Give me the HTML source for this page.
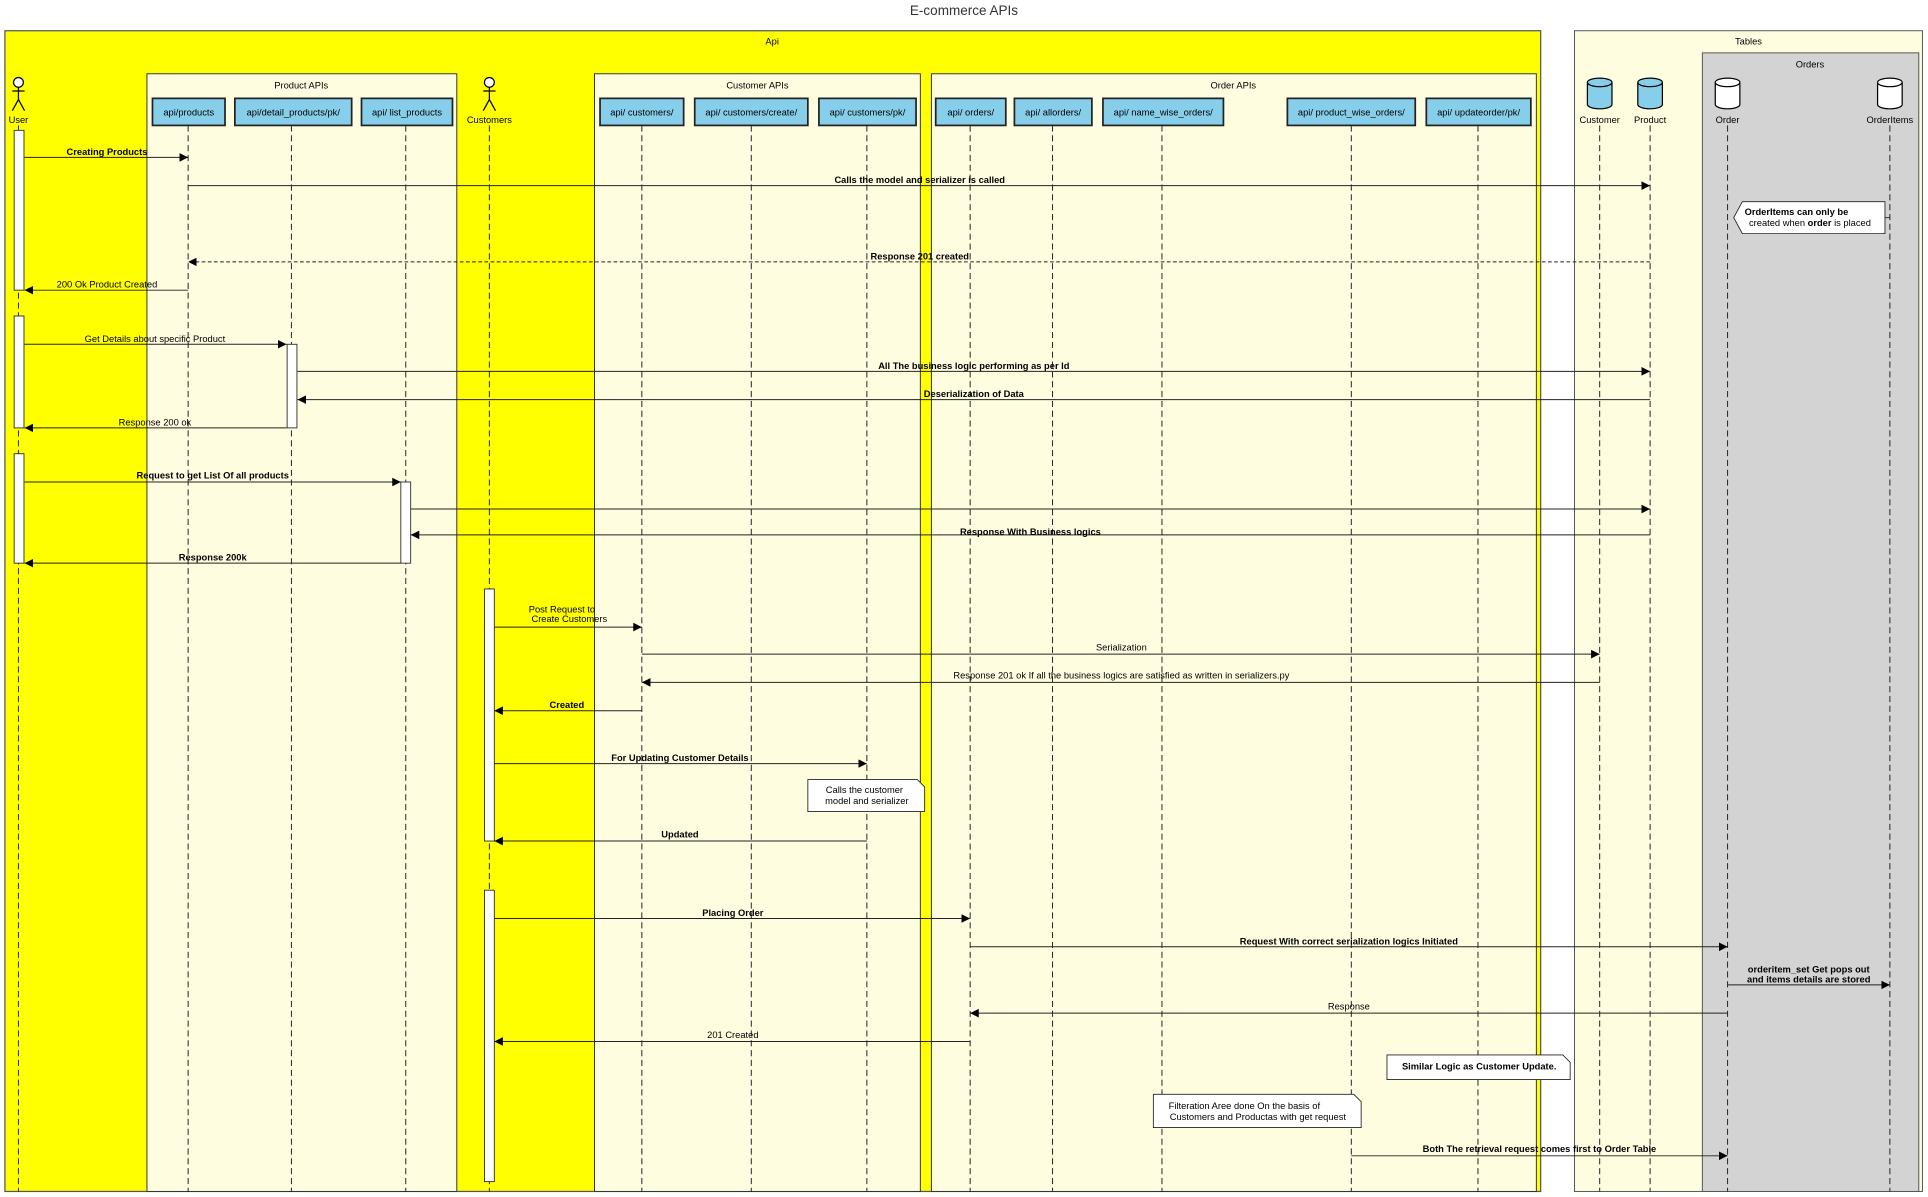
<!DOCTYPE html>
<html><head><meta charset="utf-8"><style>
html,body{margin:0;padding:0;background:#fff;}
svg{display:block;font-family:"Liberation Sans",Arial,sans-serif;}
.t{font-size:7.6px;fill:#000;text-anchor:middle;}
.b{font-weight:bold;}
.ll{stroke:#222;stroke-width:0.8;stroke-dasharray:5,3;fill:none;}
.m{stroke:#222;stroke-width:0.8;fill:none;}
.hb{fill:#87CEEB;stroke:#222;stroke-width:1.4;}
.act{fill:#fff;stroke:#222;stroke-width:0.7;}
</style></head><body>
<svg width="1928" height="1197" viewBox="0 0 1568 973.5" xmlns="http://www.w3.org/2000/svg">
<defs><marker id="a" markerWidth="8" markerHeight="8" refX="7" refY="3.5" orient="auto" markerUnits="userSpaceOnUse"><path d="M0,0 L7,3.5 L0,7 z" fill="#000"/></marker></defs>
<rect width="1568" height="974" fill="#fff"/>
<text x="784" y="12" style="font-size:11px;fill:#333;text-anchor:middle">E-commerce APIs</text>
<!-- Api frame -->
<rect x="4" y="25" width="1249" height="944" fill="#FFFF00" stroke="#555" stroke-width="1"/>
<text class="t" x="628" y="36">Api</text>
<rect x="119.5" y="60" width="252" height="909" fill="#FFFDE0" stroke="#333" stroke-width="0.8"/>
<text class="t" x="245" y="72">Product APIs</text>
<rect x="483.5" y="60" width="265" height="909" fill="#FFFDE0" stroke="#333" stroke-width="0.8"/>
<text class="t" x="616" y="72">Customer APIs</text>
<rect x="757.5" y="60" width="492" height="909" fill="#FFFDE0" stroke="#333" stroke-width="0.8"/>
<text class="t" x="1003" y="72">Order APIs</text>
<!-- Tables -->
<rect x="1280.5" y="25" width="283" height="944" fill="#FFFDE0" stroke="#555" stroke-width="0.8"/>
<text class="t" x="1422" y="36">Tables</text>
<rect x="1384.5" y="43" width="176" height="926" fill="#D3D3D3" stroke="#555" stroke-width="0.8"/>
<text class="t" x="1472" y="55">Orders</text>
<!-- lifelines -->
<g class="ll">
<line x1="15" y1="102" x2="15" y2="969"/><line x1="153" y1="102" x2="153" y2="969"/>
<line x1="237" y1="102" x2="237" y2="969"/><line x1="330" y1="102" x2="330" y2="969"/>
<line x1="398" y1="102" x2="398" y2="969"/><line x1="522" y1="102" x2="522" y2="969"/>
<line x1="611" y1="102" x2="611" y2="969"/><line x1="705" y1="102" x2="705" y2="969"/>
<line x1="789" y1="102" x2="789" y2="969"/><line x1="856" y1="102" x2="856" y2="969"/>
<line x1="945" y1="102" x2="945" y2="969"/><line x1="1099" y1="102" x2="1099" y2="969"/>
<line x1="1202" y1="102" x2="1202" y2="969"/><line x1="1301" y1="102" x2="1301" y2="969"/>
<line x1="1342" y1="102" x2="1342" y2="969"/><line x1="1405" y1="102" x2="1405" y2="969"/>
<line x1="1537" y1="102" x2="1537" y2="969"/>
</g>
<!-- header boxes -->
<g>
<rect class="hb" x="124" y="80" width="59" height="22"/><text class="t" x="153.5" y="94">api/products</text>
<rect class="hb" x="191" y="80" width="95" height="22"/><text class="t" x="238.5" y="94">api/detail_products/pk/</text>
<rect class="hb" x="294" y="80" width="74" height="22"/><text class="t" x="331" y="94">api/ list_products</text>
<rect class="hb" x="488" y="80" width="68" height="22"/><text class="t" x="522" y="94">api/ customers/</text>
<rect class="hb" x="565" y="80" width="92" height="22"/><text class="t" x="611" y="94">api/ customers/create/</text>
<rect class="hb" x="666" y="80" width="79" height="22"/><text class="t" x="705.5" y="94">api/ customers/pk/</text>
<rect class="hb" x="761" y="80" width="57" height="22"/><text class="t" x="789.5" y="94">api/ orders/</text>
<rect class="hb" x="825" y="80" width="63" height="22"/><text class="t" x="856.5" y="94">api/ allorders/</text>
<rect class="hb" x="897" y="80" width="98" height="22"/><text class="t" x="946" y="94">api/ name_wise_orders/</text>
<rect class="hb" x="1047" y="80" width="104" height="22"/><text class="t" x="1099" y="94">api/ product_wise_orders/</text>
<rect class="hb" x="1160" y="80" width="85" height="22"/><text class="t" x="1202.5" y="94">api/ updateorder/pk/</text>
</g>
<!-- actors -->
<g stroke="#000" stroke-width="1" fill="#fff">
<circle cx="15" cy="67" r="4"/><line x1="15" y1="71" x2="15" y2="81"/><line x1="10" y1="74" x2="20" y2="74"/><line x1="15" y1="81" x2="10" y2="90"/><line x1="15" y1="81" x2="20" y2="90"/>
<circle cx="398" cy="67" r="4"/><line x1="398" y1="71" x2="398" y2="81"/><line x1="393" y1="74" x2="403" y2="74"/><line x1="398" y1="81" x2="393" y2="90"/><line x1="398" y1="81" x2="403" y2="90"/>
</g>
<text class="t" x="15" y="100">User</text><text class="t" x="398" y="100">Customers</text>
<!-- cylinders -->
<g stroke="#000" stroke-width="1">
<path d="M1291,67 v18 a10,3.5 0 0 0 20,0 v-18" fill="#87CEEB"/><ellipse cx="1301" cy="67" rx="10" ry="3.5" fill="#87CEEB"/>
<path d="M1332,67 v18 a10,3.5 0 0 0 20,0 v-18" fill="#87CEEB"/><ellipse cx="1342" cy="67" rx="10" ry="3.5" fill="#87CEEB"/>
<path d="M1395,67 v18 a10,3.5 0 0 0 20,0 v-18" fill="#fff"/><ellipse cx="1405" cy="67" rx="10" ry="3.5" fill="#fff"/>
<path d="M1527,67 v18 a10,3.5 0 0 0 20,0 v-18" fill="#fff"/><ellipse cx="1537" cy="67" rx="10" ry="3.5" fill="#fff"/>
</g>
<text class="t" x="1301" y="100">Customer</text><text class="t" x="1342" y="100">Product</text>
<text class="t" x="1405" y="100">Order</text><text class="t" x="1537" y="100">OrderItems</text>
<!-- activations -->
<rect class="act" x="11.5" y="106" width="8" height="130"/>
<rect class="act" x="11.5" y="257" width="8" height="91"/>
<rect class="act" x="11.5" y="369" width="8" height="89"/>
<rect class="act" x="233.5" y="280" width="8" height="68"/>
<rect class="act" x="326" y="392" width="8" height="66"/>
<rect class="act" x="394" y="479" width="8" height="205"/>
<rect class="act" x="394" y="724" width="8" height="237"/>
<!-- messages -->
<g class="m">
<line x1="20" y1="128" x2="153" y2="128" marker-end="url(#a)"/>
<line x1="153" y1="151" x2="1342" y2="151" marker-end="url(#a)"/>
<line x1="1342" y1="213" x2="153" y2="213" marker-end="url(#a)" stroke-dasharray="3,2"/>
<line x1="153" y1="236" x2="20" y2="236" marker-end="url(#a)"/>
<line x1="20" y1="280" x2="233" y2="280" marker-end="url(#a)"/>
<line x1="242" y1="302" x2="1342" y2="302" marker-end="url(#a)"/>
<line x1="1342" y1="325" x2="242" y2="325" marker-end="url(#a)"/>
<line x1="233" y1="348" x2="20" y2="348" marker-end="url(#a)"/>
<line x1="20" y1="392" x2="326" y2="392" marker-end="url(#a)"/>
<line x1="334" y1="414" x2="1342" y2="414" marker-end="url(#a)"/>
<line x1="1342" y1="435" x2="334" y2="435" marker-end="url(#a)"/>
<line x1="326" y1="458" x2="20" y2="458" marker-end="url(#a)"/>
<line x1="402" y1="510" x2="522" y2="510" marker-end="url(#a)"/>
<line x1="522" y1="532" x2="1301" y2="532" marker-end="url(#a)"/>
<line x1="1301" y1="555" x2="522" y2="555" marker-end="url(#a)"/>
<line x1="522" y1="578" x2="402" y2="578" marker-end="url(#a)"/>
<line x1="402" y1="621" x2="705" y2="621" marker-end="url(#a)"/>
<line x1="705" y1="684" x2="402" y2="684" marker-end="url(#a)"/>
<line x1="402" y1="747" x2="789" y2="747" marker-end="url(#a)"/>
<line x1="789" y1="770" x2="1405" y2="770" marker-end="url(#a)"/>
<line x1="1405" y1="801" x2="1537" y2="801" marker-end="url(#a)"/>
<line x1="1405" y1="824" x2="789" y2="824" marker-end="url(#a)"/>
<line x1="789" y1="847" x2="402" y2="847" marker-end="url(#a)"/>
<line x1="1099" y1="940" x2="1405" y2="940" marker-end="url(#a)"/>
</g>
<g class="t">
<text class="b" x="87" y="126">Creating Products</text>
<text class="b" x="748" y="149">Calls the model and serializer is called</text>
<text class="b" x="748" y="211">Response 201 created</text>
<text x="87" y="234">200 Ok Product Created</text>
<text x="126" y="278">Get Details about specific Product</text>
<text class="b" x="792" y="300">All The business logic performing as per Id</text>
<text class="b" x="792" y="323">Deserialization of Data</text>
<text x="126" y="346">Response 200 ok</text>
<text class="b" x="173" y="389">Request to get List Of all products</text>
<text class="b" x="838" y="435">Response With Business logics</text>
<text class="b" x="173" y="456">Response 200k</text>
<text x="457" y="498">Post Request to</text>
<text x="463" y="506">Create Customers</text>
<text x="912" y="529">Serialization</text>
<text x="912" y="552">Response 201 ok If all the business logics are satisfied as written in serializers.py</text>
<text class="b" x="461" y="576">Created</text>
<text class="b" x="553" y="619">For Updating Customer Details</text>
<text class="b" x="553" y="681">Updated</text>
<text class="b" x="596" y="745">Placing Order</text>
<text class="b" x="1097" y="768">Request With correct serialization logics Initiated</text>
<text class="b" x="1471" y="791">orderitem_set Get pops out</text>
<text class="b" x="1471" y="799">and items details are stored</text>
<text x="1097" y="821">Response</text>
<text x="596" y="844">201 Created</text>
<text class="b" x="1252" y="937">Both The retrieval request comes first to Order Table</text>
</g>
<!-- notes -->
<g fill="#fff" stroke="#222" stroke-width="0.7">
<path d="M657,634 h89 l6,6 v20 h-95 z"/>
<path d="M1128,858 h143 l6,6 v14 h-149 z"/>
<path d="M938,890 h163 l6,6 v21 h-169 z"/>
<path d="M1417,164 h116 v26 h-116 l-7,-13 z"/>
<line x1="1533" y1="177" x2="1537" y2="177"/>
</g>
<g class="t">
<text x="703" y="645">Calls the customer</text>
<text x="705" y="654">model and serializer</text>
<text class="b" x="1203" y="870">Similar Logic as Customer Update.</text>
<text x="1012" y="902">Filteration Aree done On the basis of</text>
<text x="1023" y="911">Customers and Productas with get request</text>
<text class="b" x="1461" y="175">OrderItems can only be</text>
<text x="1472" y="184">created when <tspan class="b">order</tspan> is placed</text>
</g>
</svg>
</body></html>
